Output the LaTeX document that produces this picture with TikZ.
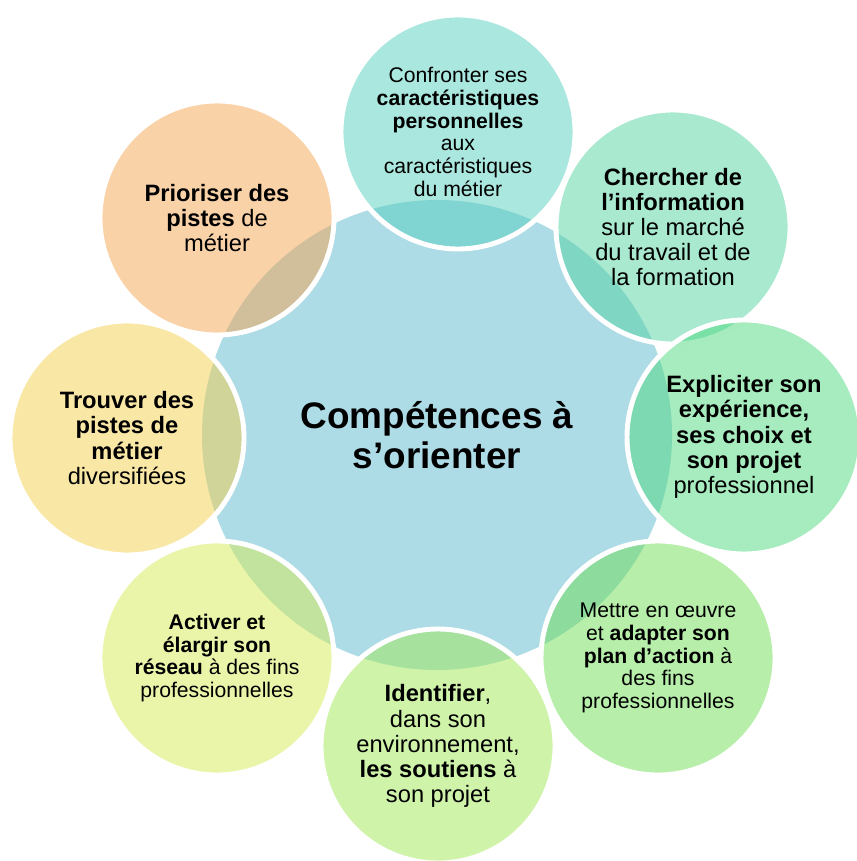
\documentclass[tikz,border=0pt]{standalone}
\usepackage{fontspec}
\setmainfont{Liberation Sans}
\definecolor{fondcentre}{RGB}{173,219,230}
\definecolor{teinteA}{RGB}{85,207,189}
\definecolor{teinteB}{RGB}{81,211,161}
\definecolor{teinteC}{RGB}{77,217,125}
\definecolor{teinteD}{RGB}{111,221,85}
\definecolor{teinteE}{RGB}{161,231,85}
\definecolor{teinteF}{RGB}{213,235,85}
\definecolor{teinteG}{RGB}{243,207,77}
\definecolor{teinteH}{RGB}{245,165,81}
\tikzset{every node/.style={inner sep=0pt, align=center, text=black},
  bulle/.style={circle, minimum size=2.34cm, draw=white, line width=1.4pt,
    fill opacity=0.5, draw opacity=1, text opacity=1,
    font=\fontsize{6.74}{7.15}\selectfont},
  serre/.style={font=\fontsize{6.03}{6.5}\selectfont}}

\begin{document}
\begin{tikzpicture}
  \useasboundingbox (0,0) rectangle (8.56,-8.61);
  \node[circle, fill=fondcentre, minimum size=4.7cm,
    font=\fontsize{10.5}{11.4}\selectfont] (comp) at (4.37,-4.35)
    {\textbf{Compétences à}\\\textbf{s’orienter}};
  \node[bulle, serre, fill=teinteA] (confr) at (4.58,-1.32)
    {Confronter ses\\\textbf{caractéristiques}\\\textbf{personnelles}\\aux\\caractéristiques\\du métier};
  \node[bulle, fill=teinteB] (cherch) at (6.73,-2.27)
    {\textbf{Chercher de}\\\textbf{l’information}\\sur le marché\\du travail et de\\la formation};
  \node[bulle, fill=teinteC] (expli) at (7.44,-4.37)
    {\textbf{Expliciter son}\\\textbf{expérience,}\\\textbf{ses choix et}\\\textbf{son projet}\\professionnel};
  \node[bulle, serre, fill=teinteD] (mettre) at (6.58,-6.58)
    {Mettre en œuvre\\et \textbf{adapter son}\\\textbf{plan d’action} à\\des fins\\professionnelles};
  \node[bulle, fill=teinteE] (ident) at (4.38,-7.46)
    {\textbf{Identifier},\\dans son\\environnement,\\\textbf{les soutiens} à\\son projet};
  \node[bulle, serre, fill=teinteF] (activ) at (2.17,-6.58)
    {\textbf{Activer et}\\\textbf{élargir son}\\\textbf{réseau} à des fins\\professionnelles};
  \node[bulle, fill=teinteG] (trouv) at (1.27,-4.38)
    {\textbf{Trouver des}\\\textbf{pistes de}\\\textbf{métier}\\diversifiées};
  \node[bulle, fill=teinteH] (prior) at (2.17,-2.18)
    {\textbf{Prioriser des}\\\textbf{pistes} de\\métier};
\end{tikzpicture}
\end{document}
